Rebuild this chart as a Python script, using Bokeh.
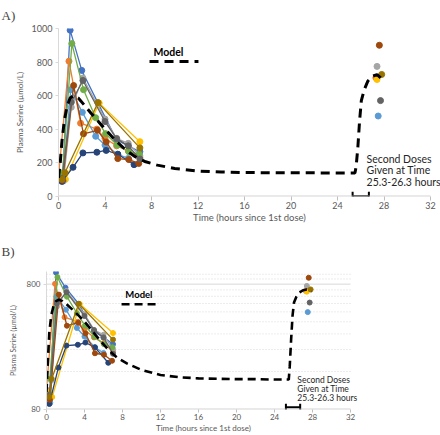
import numpy as np
from bokeh.plotting import figure
from bokeh.layouts import column
from bokeh.models import (Label, FixedTicker, Range1d, Whisker, ColumnDataSource, TeeHead,
                          NumeralTickFormatter)
from bokeh.embed import file_html
from bokeh.resources import INLINE

# ---------------- data ----------------
series_colors = ["#4472C4", "#ED7D31", "#A5A5A5", "#FFC000", "#5B9BD5",
                 "#70AD47", "#264478", "#9E480E", "#636363", "#997300"]

blue_t = [0.0, 0.35, 1.0, 2.0, 3.4, 5.0, 6.0, 7.0]
blue_v = [105, 95, 990, 750, 555, 335, 300, 265]
orange_t = [0.0, 0.9, 1.9, 3.3, 4.0, 5.0, 6.0, 7.0]
orange_v = [115, 805, 435, 400, 345, 300, 270, 230]
gray_t = [0.1, 0.5, 1.1, 2.1, 4.0, 5.0, 6.0, 7.0]
gray_v = [100, 135, 530, 705, 460, 345, 315, 240]
gold_t = [0.1, 0.6, 3.5, 7.0]
gold_v = [110, 100, 555, 325]
lblue_t = [0.1, 0.4, 1.05, 2.05, 3.2, 4.0, 5.1, 6.0]
lblue_v = [100, 90, 635, 500, 357, 305, 250, 225]
green_t = [0.35, 1.15, 2.15, 3.2, 4.05, 5.05, 6.05, 6.95]
green_v = [140, 910, 635, 468, 373, 304, 265, 250]
dblue_t = [0.3, 1.25, 2.1, 3.3, 4.1, 5.1, 6.5]
dblue_v = [88, 172, 258, 262, 273, 250, 188]
brown_t = [0.35, 1.3, 2.15, 3.35, 4.1, 5.1, 6.05, 6.9]
brown_v = [95, 660, 372, 393, 323, 224, 218, 195]
dgray_t = [0.3, 1.1, 2.1, 4.0, 5.0, 6.0, 7.0]
dgray_v = [105, 560, 690, 445, 343, 300, 222]
dgold_t = [0.3, 0.55, 3.4, 7.0]
dgold_v = [100, 140, 558, 288]

series_t = [blue_t, orange_t, gray_t, gold_t, lblue_t, green_t, dblue_t, brown_t, dgray_t, dgold_t]
series_v = [blue_v, orange_v, gray_v, gold_v, lblue_v, green_v, dblue_v, brown_v, dgray_v, dgold_v]

# second-dose samples
dose2_t = [27.6, 27.4, 27.3, 27.4, 27.8, 27.7, 27.5]
dose2_v = [900, 774, 706, 696, 726, 570, 478]
dose2_colors = ["#9E480E", "#A5A5A5", "#ED7D31", "#FFC000", "#997300", "#636363", "#5B9BD5"]

# model curve
model_t = [0, 0.15, 0.3, 0.5, 0.75, 1.0, 1.3, 1.7, 2.2, 2.8, 3.5, 4.2, 5.0, 5.8, 6.6, 7.5,
           8.5, 10, 12, 14, 16, 18, 20, 22, 24, 25.5, 25.6, 25.75, 25.9, 26.05, 26.3, 26.6,
           27.0, 27.4, 27.9]
model_v = [110, 200, 330, 450, 540, 585, 600, 585, 545, 495, 440, 385, 325, 275, 235, 205,
           185, 165, 150, 144, 141, 140, 139, 139, 138, 138, 175, 290, 450, 570, 635, 685,
           715, 725, 695]

dose_window = [25.3, 26.7]
x_ticks = [0, 4, 8, 12, 16, 20, 24, 28, 32]
yA_ticks = [0, 200, 400, 600, 800, 1000]
yB_ticks = [80, 800]
yB_minor_grid = [160, 240, 320, 400, 480, 560, 640, 720, 880, 960]

FONT = "Lato"
TICK_COL = "#595959"
AXIS_COL = "#BFBFBF"


def style_axes(p, tick_size, title_size, ytitle_size, ystand):
    for ax in (p.xaxis[0], p.yaxis[0]):
        ax.major_label_text_font = FONT
        ax.major_label_text_font_size = tick_size
        ax.major_label_text_color = TICK_COL
        ax.minor_tick_line_color = None
        ax.major_tick_in = 0
        ax.axis_label_text_font = FONT
        ax.axis_label_text_font_style = "normal"
        ax.axis_label_text_color = TICK_COL
    p.xaxis.axis_line_color = None
    p.xaxis.major_tick_line_color = AXIS_COL
    p.xaxis.major_tick_out = 4
    p.xaxis.major_label_standoff = 1
    p.xaxis.axis_label = "Time (hours since 1st dose)"
    p.xaxis.axis_label_text_font_size = title_size
    p.xaxis.axis_label_standoff = 0
    p.yaxis.axis_line_color = "#D9D9D9"
    p.yaxis.major_tick_line_color = "#D9D9D9"
    p.yaxis.major_tick_out = 3
    p.yaxis.major_label_standoff = 3
    p.yaxis.axis_label = "Plasma Serine (µmol/L)"
    p.yaxis.axis_label_text_font_size = ytitle_size
    p.yaxis.axis_label_standoff = ystand
    p.xaxis.ticker = FixedTicker(ticks=x_ticks)
    p.xgrid.grid_line_color = None
    p.ygrid.grid_line_color = None
    p.outline_line_color = None
    p.title.text_font = "Liberation Serif"
    p.title.text_font_size = "13px"
    p.title.text_font_style = "normal"
    p.title.align = "left"
    p.title.vertical_align = "bottom"
    p.frame_align = False


def draw_data(p, msize, model_w, dash, ybase):
    # x axis line from 0 to 32
    p.segment(x0=[x_ticks[0]], y0=[ybase], x1=[x_ticks[-1]], y1=[ybase],
              line_color=AXIS_COL, line_width=1)
    for t, v, c in zip(series_t, series_v, series_colors):
        p.line(t, v, line_color=c, line_width=1.3)
        p.scatter(t, v, size=msize, fill_color=c, line_color=c)
    p.scatter(dose2_t, dose2_v, size=msize, fill_color=dose2_colors, line_color=dose2_colors)
    p.line(model_t, model_v, line_color="black", line_width=model_w, line_dash=dash)


# ---------------- panel A ----------------
pA = figure(width=440, height=226, output_backend="svg", toolbar_location=None, title="A)",
            x_range=Range1d(0, 32.86), y_range=Range1d(-2, 1000),
            min_border_left=58, min_border_right=0, min_border_top=28, min_border_bottom=30)
style_axes(pA, "9px", "9.5px", "8px", 4)
pA.title.offset = -57
pA.title.standoff = 11
pA.yaxis.ticker = FixedTicker(ticks=yA_ticks)
draw_data(pA, 6, 3, "9 6", 0)

pA.line([7.83, 12.04], [803, 803], line_color="black", line_width=3, line_dash="9 6")
pA.add_layout(Label(x=8.17, y=857, text="Model", text_font=FONT, text_font_style="bold",
                    text_font_size="10.5px", text_baseline="middle", text_color="black"))
for txt, yy in zip(["Second Doses", "Given at Time", "25.3-26.3 hours"], [220, 155, 83]):
    pA.add_layout(Label(x=26.5, y=yy, text=txt, text_font=FONT, text_font_size="10.5px",
                        text_baseline="middle", text_color="#262626"))
pA.add_layout(Whisker(base=0, lower=dose_window[0], upper=dose_window[1], dimension="width",
                      line_color="black", line_width=2,
                      lower_head=TeeHead(size=9, line_color="black", line_width=2),
                      upper_head=TeeHead(size=9, line_color="black", line_width=2),
                      source=ColumnDataSource(dict())))

# ---------------- panel B ----------------
pB = figure(width=440, height=209, output_backend="svg", toolbar_location=None, title="B)",
            x_range=Range1d(0, 33.05), y_range=Range1d(79.5, 1010), y_axis_type="log",
            min_border_left=46, min_border_right=80, min_border_top=45, min_border_bottom=24)
style_axes(pB, "8px", "8px", "7px", 7)
pB.title.offset = -45
pB.title.standoff = 25
pB.yaxis.ticker = FixedTicker(ticks=yB_ticks)
pB.yaxis.formatter = NumeralTickFormatter(format="0")
pB.xaxis.major_tick_out = 3
pB.segment(x0=[x_ticks[0]] * len(yB_minor_grid), y0=yB_minor_grid,
           x1=[x_ticks[-1]] * len(yB_minor_grid), y1=yB_minor_grid,
           line_color="#D9D9D9", line_width=1, line_dash="1 2")
pB.segment(x0=[x_ticks[0]], y0=[yB_ticks[1]], x1=[x_ticks[-1]], y1=[yB_ticks[1]],
           line_color="#D9D9D9", line_width=1)
draw_data(pB, 5, 2.6, "8 5", 80)

pB.line([7.9, 11.7], [553, 553], line_color="black", line_width=2.6, line_dash="8 5")
pB.add_layout(Label(x=8.3, y=666, text="Model", text_font=FONT, text_font_style="bold",
                    text_font_size="9.5px", text_baseline="middle", text_color="black"))
for txt, yy in zip(["Second Doses", "Given at Time", "25.3-26.3 hours"], [137, 115, 98]):
    pB.add_layout(Label(x=26.4, y=yy, text=txt, text_font=FONT, text_font_size="8.5px",
                        text_baseline="middle", text_color="#262626"))
pB.add_layout(Whisker(base=83, lower=dose_window[0] - 0.1, upper=dose_window[1],
                      dimension="width", line_color="black", line_width=2,
                      lower_head=TeeHead(size=7, line_color="black", line_width=2),
                      upper_head=TeeHead(size=7, line_color="black", line_width=2),
                      source=ColumnDataSource(dict())))

layout = column(pA, pB, spacing=0)
with open("out.html", "w") as f:
    f.write(file_html(layout, INLINE))
